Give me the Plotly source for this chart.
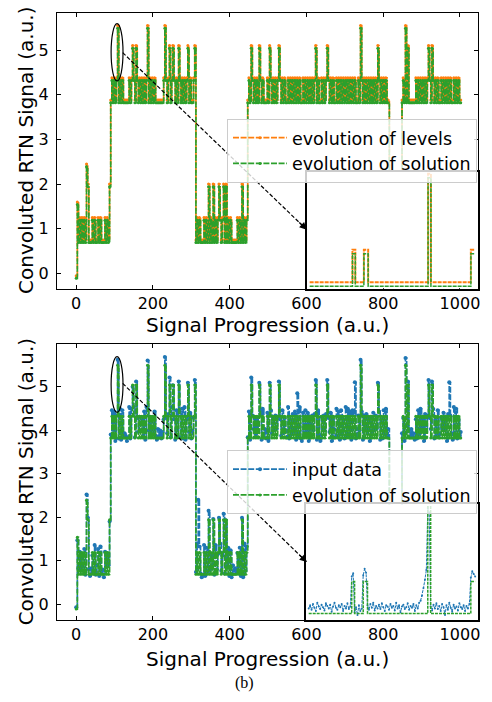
import plotly.graph_objects as go

# ---------------- data ----------------
# discrete levels of the convoluted RTN signal (index = state code)
LEVELS = [-0.05, 0.75, 1.25, 1.60, 2.00, 2.45, 3.88, 4.38, 5.10, 5.55]
# levels reached by the solution (slightly below the true levels)
SOLUTION_LEVELS = [-0.11, 0.69, 1.19, 1.54, 1.94, 2.39, 3.82, 4.32, 5.04, 5.49]

SAMPLE_STEP = 3  # signal progression units between samples

# state code per sample, written segment by segment
SEG_A = "0312121215" "4111212112" "1211121214"
SEG_B = ("6767679676" "7666667678" "7687676767" "6796767676"
         "6666667976" "7867876768" "7676767867" "6678")
SEG_C = "1212111212" "1412141212" "4212414121" "2111112121" "41212"
SEG_D = ("6768767676" "8767666768" "7676767876" "7676676767"
         "6767676676" "7676767678" "6766767678" "7676766767"
         "6767676767" "6767667697" "6767676767" "6768767676" "766")
SEG_GAP = "12121212121"
SEG_E = "6769686666" "6676767676" "7678768767" "6766767676" "7676676767" "66"
STATE_CODES = SEG_A + SEG_B + SEG_C + SEG_D + SEG_GAP + SEG_E

# measurement noise of the input data (digit per sample -> offset)
NOISE_OFFSETS = [-0.13, -0.10, -0.07, -0.04, -0.01, 0.02, 0.05, 0.08, 0.11, 0.15]
NOISE_DIGITS = ("40736185294617038295174603829157460392817564039281"
                "93517280461938270564193827051648392017456382910475"
                "28164957302816495073286149507328614095732861409573"
                "61839250746183925047618392504761839205476183920547"
                "75029384617502938461750293846175029384617502938461"
                "39461027583946102758394610275839461027583946102758"
                "82047361958204736195820473619582047")
# isolated input samples (sample index -> value)
INPUT_SPIKES = {0: -0.07, 9: 2.52, 36: 5.62, 62: 5.60, 77: 5.68, 106: 2.40,
                192: 4.85, 242: 5.10, 247: 5.62, 286: 5.66, 324: 5.10}

# zoomed inset: breakpoints and state codes
INSET_EDGES = [92.5, 100.0, 100.5, 102.0, 102.75, 113.25, 113.75, 120.75, 121.5]
INSET_CODES = [6, 7, 6, 7, 6, 9, 6, 7, 7]
INSET_INPUT_X0 = 92.5
INSET_INPUT_STEP = 0.25
INSET_INPUT = [
    3.90, 3.95, 3.88, 3.97, 3.91, 3.86, 3.99, 3.93, 3.89, 3.96,
    3.92, 3.87, 3.98, 3.94, 3.90, 3.96, 3.85, 3.93, 3.99, 3.91,
    3.88, 3.95, 3.92, 3.97, 3.86, 3.94, 3.90, 3.98, 3.89, 3.93,
    4.40, 4.45,
    3.84, 3.92, 3.80, 3.95, 3.86, 3.90,
    4.42, 4.52, 4.46,
    3.95, 3.88, 3.97, 3.91, 3.99, 3.87, 3.94, 3.90, 3.96,
    3.89, 3.98, 3.92, 3.86, 3.95, 3.93, 3.88, 3.97, 3.91, 3.94,
    3.87, 3.99, 3.90, 3.95, 3.84, 3.93, 3.96, 3.89, 3.92, 3.98,
    3.88, 3.94, 3.91, 3.97, 3.86, 3.95, 3.90, 3.99,
    4.02, 4.10, 4.22, 4.35, 4.50,
    5.47, 5.40,
    3.93, 3.87, 3.96, 3.90, 3.98,
    3.89, 3.94, 3.86, 3.97, 3.92, 3.80, 3.95, 3.88, 3.99, 3.91,
    3.85, 3.96, 3.90, 3.93, 3.87, 3.98, 3.92, 3.89, 3.95, 3.86,
    3.94, 3.90, 3.97,
    4.38, 4.48, 4.44, 4.40,
]

X_TICKS = [0, 200, 400, 600, 800, 1000]
Y_TICKS = [0, 1, 2, 3, 4, 5]

X_TITLE = "Signal Progression (a.u.)"
Y_TITLE = "Convoluted RTN Signal (a.u.)"
TOP_LEGEND = ["evolution of levels", "evolution of solution"]
BOT_LEGEND = ["input data", "evolution of solution"]
CAPTION = "(b)"

# axis limits
MAIN_XRANGE = [-50, 1047]
TOP_YRANGE = [-0.34, 5.83]
BOT_YRANGE = [-0.36, 5.97]
INSET_XRANGE = [92, 122]
TOP_INSET_YRANGE = [3.783, 5.581]
BOT_INSET_YRANGE = [3.72, 5.53]

# ---------------- derived series ----------------
codes = [int(c) for c in STATE_CODES]
sig_x = [i * SAMPLE_STEP for i in range(len(codes))]
levels_y = [LEVELS[c] for c in codes]
solution_y = [SOLUTION_LEVELS[c] for c in codes]
input_y = [LEVELS[c] + NOISE_OFFSETS[int(d)] for c, d in zip(codes, NOISE_DIGITS)]
for k, v in INPUT_SPIKES.items():
    input_y[k] = v

inset_lv = [LEVELS[c] for c in INSET_CODES]
inset_sol = [SOLUTION_LEVELS[c] for c in INSET_CODES]
inset_in_x = [INSET_INPUT_X0 + k * INSET_INPUT_STEP for k in range(len(INSET_INPUT))]

ORANGE = "#ff7f0e"
GREEN = "#2ca02c"
BLUE = "#1f77b4"
FONT = "DejaVu Sans"
DASH = "6px,1.6px"

fig = go.Figure()

def main_trace(x, y, color, name, xa, ya, legend, msize=3):
    return go.Scatter(x=x, y=y, mode="lines+markers", name=name,
                      line=dict(color=color, width=1.7, dash=DASH, shape="hv"),
                      marker=dict(color=color, size=msize),
                      xaxis=xa, yaxis=ya, legend=legend)

def inset_background(xr, yr, xa, ya):
    # opaque white panel so the inset hides the main curves beneath it
    return go.Scatter(x=[xr[0], xr[1], xr[1], xr[0], xr[0]],
                      y=[yr[0], yr[0], yr[1], yr[1], yr[0]],
                      mode="lines", fill="toself", fillcolor="white",
                      line=dict(width=0, color="white"), hoverinfo="skip",
                      showlegend=False, xaxis=xa, yaxis=ya)

fig.add_trace(main_trace(sig_x, levels_y, ORANGE, TOP_LEGEND[0], "x", "y", "legend"))
fig.add_trace(main_trace(sig_x, solution_y, GREEN, TOP_LEGEND[1], "x", "y", "legend"))
fig.add_trace(main_trace(sig_x, input_y, BLUE, BOT_LEGEND[0], "x2", "y2", "legend2", msize=4))
fig.add_trace(main_trace(sig_x, solution_y, GREEN, BOT_LEGEND[1], "x2", "y2", "legend2"))

# insets
fig.add_trace(inset_background(INSET_XRANGE, TOP_INSET_YRANGE, "x3", "y3"))
fig.add_trace(go.Scatter(x=INSET_EDGES, y=inset_lv, mode="lines", showlegend=False,
                         line=dict(color=ORANGE, width=2, dash="4px,1px", shape="hv"),
                         xaxis="x3", yaxis="y3"))
fig.add_trace(go.Scatter(x=INSET_EDGES, y=inset_sol, mode="lines", showlegend=False,
                         line=dict(color=GREEN, width=1.5, dash="4px,1px", shape="hv"),
                         xaxis="x3", yaxis="y3"))
fig.add_trace(inset_background(INSET_XRANGE, BOT_INSET_YRANGE, "x4", "y4"))
fig.add_trace(go.Scatter(x=inset_in_x, y=INSET_INPUT, mode="lines+markers", showlegend=False,
                         line=dict(color=BLUE, width=1, dash="3px,1px"),
                         marker=dict(color=BLUE, size=2),
                         xaxis="x4", yaxis="y4"))
fig.add_trace(go.Scatter(x=INSET_EDGES, y=inset_sol, mode="lines", showlegend=False,
                         line=dict(color=GREEN, width=1.5, dash="3px,1px", shape="hv"),
                         xaxis="x4", yaxis="y4"))

main_x = dict(range=MAIN_XRANGE, tickvals=X_TICKS, ticks="inside", ticklen=4,
              tickwidth=1, tickcolor="black", mirror="ticks", showline=True,
              linecolor="black", linewidth=1, showgrid=False, zeroline=False,
              tickfont=dict(size=16, family=FONT, color="black"),
              ticklabelstandoff=0)
main_y = dict(tickvals=Y_TICKS, ticks="inside", ticklen=4, tickwidth=1,
              tickcolor="black", mirror="ticks", showline=True, linecolor="black",
              linewidth=1, showgrid=False, zeroline=False,
              tickfont=dict(size=16, family=FONT, color="black"),
              ticklabelstandoff=4)
inset_ax = dict(showticklabels=False, ticks="", showline=True, mirror=True,
                linecolor="black", linewidth=1.5, showgrid=False, zeroline=False)

legend_style = dict(x=0.9976, xanchor="right", yanchor="top",
                    bgcolor="rgba(255,255,255,0.8)", bordercolor="#cccccc", borderwidth=1,
                    font=dict(size=17.5, family=FONT, color="black"), tracegroupgap=0,
                    itemwidth=54)

fig.update_layout(
    width=492, height=702,
    margin=dict(l=57, r=12, t=12, b=82),
    paper_bgcolor="white", plot_bgcolor="rgba(0,0,0,0)",
    xaxis=dict(main_x, domain=[0, 1], anchor="y"),
    yaxis=dict(main_y, domain=[0.546, 1], anchor="x", range=TOP_YRANGE),
    xaxis2=dict(main_x, domain=[0, 1], anchor="y2"),
    yaxis2=dict(main_y, domain=[0, 0.454], anchor="x2", range=BOT_YRANGE),
    xaxis3=dict(inset_ax, domain=[0.5934, 1], anchor="y3", range=INSET_XRANGE),
    yaxis3=dict(inset_ax, domain=[0.546, 0.7385], anchor="x3", range=TOP_INSET_YRANGE),
    xaxis4=dict(inset_ax, domain=[0.5910, 1], anchor="y4", range=INSET_XRANGE),
    yaxis4=dict(inset_ax, domain=[0, 0.1908], anchor="x4", range=BOT_INSET_YRANGE),
    legend=dict(legend_style, y=0.8257),
    legend2=dict(legend_style, y=0.2796),
    showlegend=True,
)

shapes = [
    # ellipses marking the zoomed region
    dict(type="circle", xref="x", yref="y", x0=91, x1=122, y0=4.31, y1=5.59,
         line=dict(color="black", width=1.2), layer="above"),
    dict(type="circle", xref="x2", yref="y2", x0=91, x1=122, y0=4.41, y1=5.69,
         line=dict(color="black", width=1.2), layer="above"),
    # dashed connector lines
    dict(type="line", xref="paper", yref="paper", x0=0.156, y0=0.9347, x1=0.5934, y1=0.643,
         line=dict(color="black", width=1.2, dash="4px,2px"), layer="above"),
    dict(type="line", xref="paper", yref="paper", x0=0.156, y0=0.3898, x1=0.5934, y1=0.0954,
         line=dict(color="black", width=1.2, dash="4px,2px"), layer="above"),
]
fig.update_layout(shapes=shapes)

fig.add_annotation(x=0.5934, y=0.643, xref="paper", yref="paper", text="",
                   showarrow=True, arrowhead=2, arrowsize=1.2, arrowwidth=1.2,
                   arrowcolor="black", ax=-9, ay=-8.6)
fig.add_annotation(x=0.5934, y=0.0954, xref="paper", yref="paper", text="",
                   showarrow=True, arrowhead=2, arrowsize=1.2, arrowwidth=1.2,
                   arrowcolor="black", ax=-9, ay=-8.7)

# axis titles
title_font = dict(size=20, family=FONT, color="black")
for ty in (0.4868, -0.0641):
    fig.add_annotation(x=0.5, y=ty, xref="paper", yref="paper", text=X_TITLE,
                       xanchor="center", yanchor="middle", showarrow=False, font=title_font)
for ty in (0.773, 0.227):
    fig.add_annotation(x=-0.0733, y=ty, xref="paper", yref="paper", text=Y_TITLE,
                       textangle=-90, xanchor="center", yanchor="middle",
                       showarrow=False, font=title_font)

fig.add_annotation(x=0.4445, y=-0.1036, xref="paper", yref="paper", text=CAPTION,
                   xanchor="center", yanchor="middle",
                   showarrow=False, font=dict(size=16, family="Liberation Serif", color="black"))

fig.write_html("out.html")
